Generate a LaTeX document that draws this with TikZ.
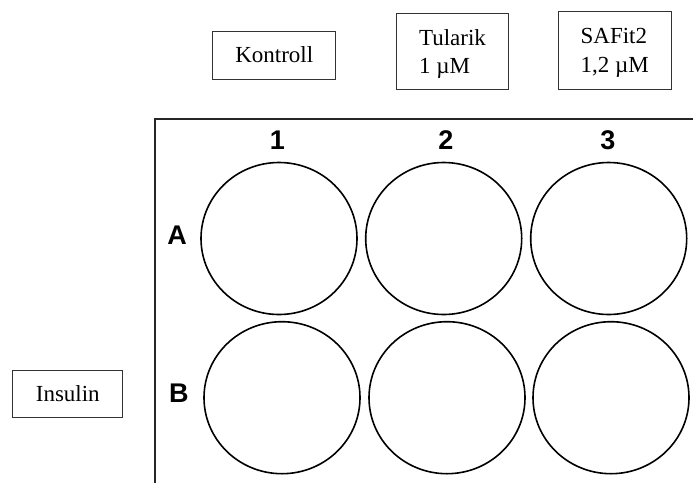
\documentclass[tikz,border=0pt]{standalone}
\usepackage{fontspec}
\setmainfont{Liberation Serif}
\setsansfont{Liberation Sans}
\usetikzlibrary{shapes.geometric}

\tikzset{
  label box/.style={draw=black!80, line width=1pt, rectangle, inner sep=0pt,
    font=\fontsize{23}{28.3}\selectfont, align=left},
  plate edge/.style={line width=2pt, black!85},
  well/.style={draw=black, line width=1.6pt, ellipse, inner sep=0pt,
    minimum width=156pt, minimum height=152pt},
  grid mark/.style={inner sep=0pt, font=\fontsize{27}{30}\selectfont\sffamily\bfseries}
}

\begin{document}
\begin{tikzpicture}[x=1pt, y=-1pt]
  \useasboundingbox (0,0) rectangle (693,483);

  % treatment labels above the columns
  \node[label box, minimum width=123.3pt, minimum height=48pt] (kontroll) at (274.3,55) {Kontroll};
  \node[label box, minimum width=111.6pt, minimum height=76pt, text depth=0pt] (tularik) at (452.5,51.3) {Tularik\\1 µM};
  \node[label box, minimum width=112.7pt, minimum height=77.6pt, text depth=0pt] (safit) at (614.7,50.5) {SAFit2\\1,2 µM};

  % treatment label beside row B
  \node[label box, minimum width=110.3pt, minimum height=46.6pt] (insulin) at (67.8,394) {Insulin};

  % plate outline (top and left edges)
  \coordinate (pTR) at (693,119.3);
  \coordinate (pTL) at (154.5,119.3);
  \coordinate (pBL) at (154.5,483);
  \draw[plate edge] (pTR) -- (pTL) -- (pBL);

  % column and row headings
  \node[grid mark] (c1) at (277.3,140.5) {1};
  \node[grid mark] (c2) at (446,140.3) {2};
  \node[grid mark] (c3) at (607.8,140) {3};
  \node[grid mark] (rA) at (177,235) {A};
  \node[grid mark] (rB) at (178.8,393) {B};

  % wells
  \node[well] (A1) at (279,238.5) {};
  \node[well] (A2) at (443.7,238.5) {};
  \node[well] (A3) at (608.7,238.5) {};
  \node[well] (B1) at (282,397.7) {};
  \node[well] (B2) at (447,397.7) {};
  \node[well] (B3) at (611,397.7) {};
\end{tikzpicture}
\end{document}
